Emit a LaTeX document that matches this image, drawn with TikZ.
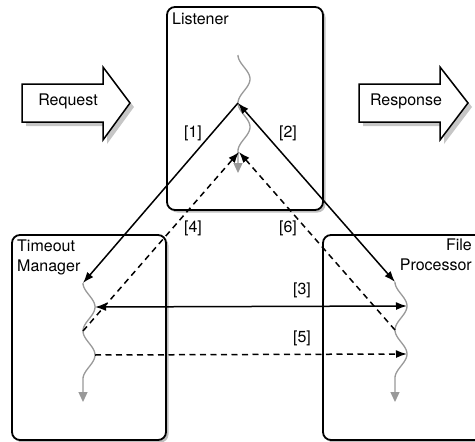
\documentclass[tikz,border=0pt]{standalone}
\usepackage{fontspec}
\setmainfont{TeX Gyre Heros}
\usetikzlibrary{arrows.meta,shadows}

\tikzset{
  box/.style={draw, line width=1.8pt, rounded corners=8pt, fill=white,
    drop shadow={shadow xshift=2.5pt, shadow yshift=-2.5pt, opacity=0.5}},
  blockarrow/.style={draw, line width=1.5pt, fill=white,
    drop shadow={shadow xshift=4pt, shadow yshift=-4pt, opacity=0.45}},
  thread/.style={draw=black!40, line width=1.3pt, -{Triangle[length=10pt,width=9pt]}},
  msg/.style={line width=1.5pt, -{Latex[length=11pt,width=8pt]}},
  msgdash/.style={msg, dash pattern=on 6pt off 4.5pt},
  tag/.style={inner sep=0pt}
}

\begin{document}
\begin{tikzpicture}[x=1pt,y=-1pt,font=\fontsize{16}{20}\selectfont]
\useasboundingbox (0,0) rectangle (475,442);
\clip (0,0) rectangle (475,442);

% boxes
\draw[box] (167,7) rectangle (323,210);
\draw[box] (12,235) rectangle (166,440);
\draw[box] (323,235) rectangle (500,440);
\node[tag, anchor=base west] (lsttext) at (172,24) {Listener};
\node[tag, anchor=north west, align=left] (tmtext) at (17,240) {Timeout\\Manager};
\node[tag, anchor=north east, align=right] (fptext) at (472,239) {File\\Processor};

% request / response
\draw[blockarrow] (22,84) -- (103,84) -- (103,67) -- (130,103) -- (103,140) -- (103,122) -- (22,122) -- cycle;
\node[tag, anchor=base] (req) at (68,105) {Request};
\draw[blockarrow] (359,84) -- (440,84) -- (440,67) -- (468,103) -- (440,140) -- (440,122) -- (359,122) -- cycle;
\node[tag, anchor=base] (resp) at (406,105) {Response};

% threads
\draw[thread] plot[domain=55:151, samples=60, variable=\t] ({244-6*cos(7.5*(\t-55))}, \t) -- (238,173);
\draw[thread] plot[domain=283:379, samples=60, variable=\t] ({89-6*cos(7.5*(\t-283))}, \t) -- (83,402);
\draw[thread] plot[domain=282:378, samples=60, variable=\t] ({401-6*cos(7.5*(\t-282))}, \t) -- (395,402);

\coordinate (lsta) at (238,103);
\coordinate (lstb) at (239,152);
\coordinate (tm0) at (83,283);
\coordinate (tma) at (95,307);
\coordinate (tmb) at (83,331);
\coordinate (tmc) at (95,355);
\coordinate (fp0) at (395,282);
\coordinate (fpa) at (407,306);
\coordinate (fpb) at (395,330);
\coordinate (fpc) at (407,354);

% messages
\draw[msg] (lsta) -- (tm0);
\draw[msg, {Latex[length=11pt,width=8pt]}-{Latex[length=11pt,width=8pt]}] (lsta) -- (fp0);
\draw[msg, {Latex[length=11pt,width=8pt]}-{Latex[length=11pt,width=8pt]}] (tma) -- (fpa);
\draw[msgdash] (tmb) -- (lstb);
\draw[msgdash] (tmc) -- (fpc);
\draw[msgdash] (fpb) -- (lstb);

\node[tag] (n1) at (193,133) {[1]};
\node[tag] (n2) at (288,133) {[2]};
\node[tag] (n3) at (302,290) {[3]};
\node[tag] (n4) at (193,228) {[4]};
\node[tag] (n5) at (302,338) {[5]};
\node[tag] (n6) at (288,228) {[6]};
\end{tikzpicture}
\end{document}
